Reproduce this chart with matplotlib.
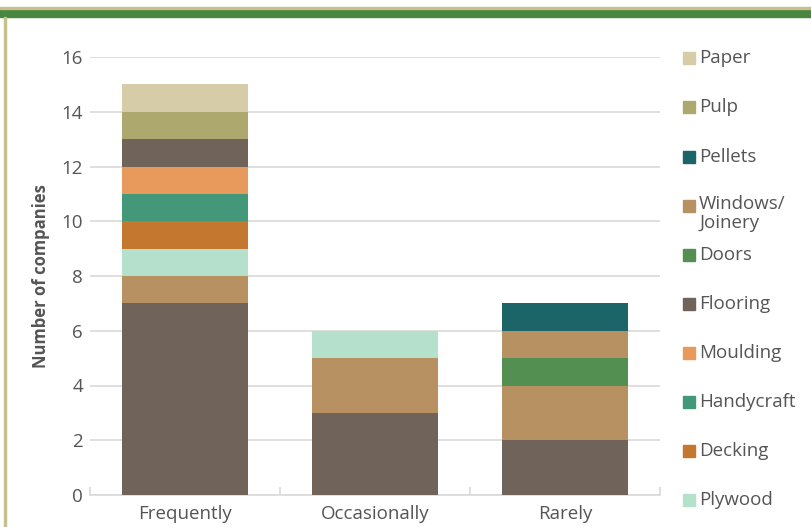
import matplotlib.pyplot as plt
import numpy as np
from matplotlib.patches import Rectangle

plt.rcParams['font.family'] = ['Open Sans', 'DejaVu Sans']

categories = ["Frequently", "Occasionally", "Rarely"]

# series from bottom of stack to top; the two lowest ones are cut off the legend
series_names = ["Furniture", "Sawnwood", "Plywood", "Decking", "Handycraft", "Moulding",
                "Flooring", "Doors", "Windows/\nJoinery", "Pellets", "Pulp", "Paper"]
furniture = [7, 3, 2]
sawnwood = [1, 2, 2]
plywood = [1, 1, 0]
decking = [1, 0, 0]
handycraft = [1, 0, 0]
moulding = [1, 0, 0]
flooring = [1, 0, 0]
doors = [0, 0, 1]
windows = [0, 0, 1]
pellets = [0, 0, 1]
pulp = [1, 0, 0]
paper = [1, 0, 0]
series_values = [furniture, sawnwood, plywood, decking, handycraft, moulding,
                 flooring, doors, windows, pellets, pulp, paper]
colors = ["#706359", "#B79161", "#B5E0CC", "#C4772F", "#44987A", "#E79A5B",
          "#706359", "#538F50", "#B79161", "#1B6468", "#ADA96E", "#D6CDA8"]
in_legend = [False, False] + [True] * 10

text_col = "#555555"
grid_col = "#D9D9D9"
fs = 13.5

fig = plt.figure(figsize=(8.11, 5.27), dpi=100)
ax = fig.add_axes([90 / 811, 32 / 527, 570 / 811, 438 / 527])

x = np.arange(len(categories))
bottom = np.zeros(len(categories))
for name, vals, c in zip(series_names, series_values, colors):
    ax.bar(x, vals, width=0.66, bottom=bottom, color=c, zorder=3, label=name)
    bottom += np.array(vals)

ax.set_xlim(-0.5, 2.5)
ax.set_ylim(0, 16)
ax.set_yticks(range(0, 17, 2))
ax.set_xticks(x)
ax.set_xticklabels(categories)
ax.set_xticks([-0.5, 0.5, 1.5, 2.5], minor=True)
ax.tick_params(axis='x', which='major', length=0, pad=7, labelsize=fs, labelcolor=text_col)
ax.tick_params(axis='x', which='minor', direction='in', length=6, color=grid_col, width=1.2)
ax.tick_params(axis='y', length=0, pad=5, labelsize=fs, labelcolor=text_col)
ax.grid(axis='y', color=grid_col, linewidth=1.2, zorder=0)
for s in ['top', 'right', 'left']:
    ax.spines[s].set_visible(False)
ax.spines['bottom'].set_color(grid_col)
ax.spines['bottom'].set_linewidth(1.2)
ax.set_ylabel("Number of companies", fontsize=12, fontweight='bold', color=text_col, labelpad=8)

# legend drawn by hand, top of stack first
leg_y = [58, 107, 157, 206, 255, 304, 353, 402, 451, 500]
legend_items = [(n, c) for n, c, show in zip(series_names, colors, in_legend) if show][::-1]
for (name, c), py in zip(legend_items, leg_y):
    fig.add_artist(Rectangle((683 / 811, 1 - (py + 6) / 527), 12 / 811, 12 / 527,
                             transform=fig.transFigure, color=c))
    if '\n' in name:
        fig.text(699 / 811, 1 - (py - 11) / 527, name, fontsize=fs, color=text_col,
                 va='top', ha='left', linespacing=1.1)
    else:
        fig.text(699 / 811, 1 - py / 527, name, fontsize=fs, color=text_col,
                 va='center', ha='left')

# header band and side rule
fig.add_artist(Rectangle((0, 1 - 17 / 527), 1, 9 / 527, transform=fig.transFigure,
                         color="#47873F"))
fig.add_artist(Rectangle((0, 1 - 8.5 / 527), 1, 1 / 527, transform=fig.transFigure,
                         color="#C8C08A"))
fig.add_artist(Rectangle((4 / 811, 0), 1.5 / 811, 1 - 17 / 527, transform=fig.transFigure,
                         color="#C8C08A"))

fig.savefig("out.png", dpi=100)
